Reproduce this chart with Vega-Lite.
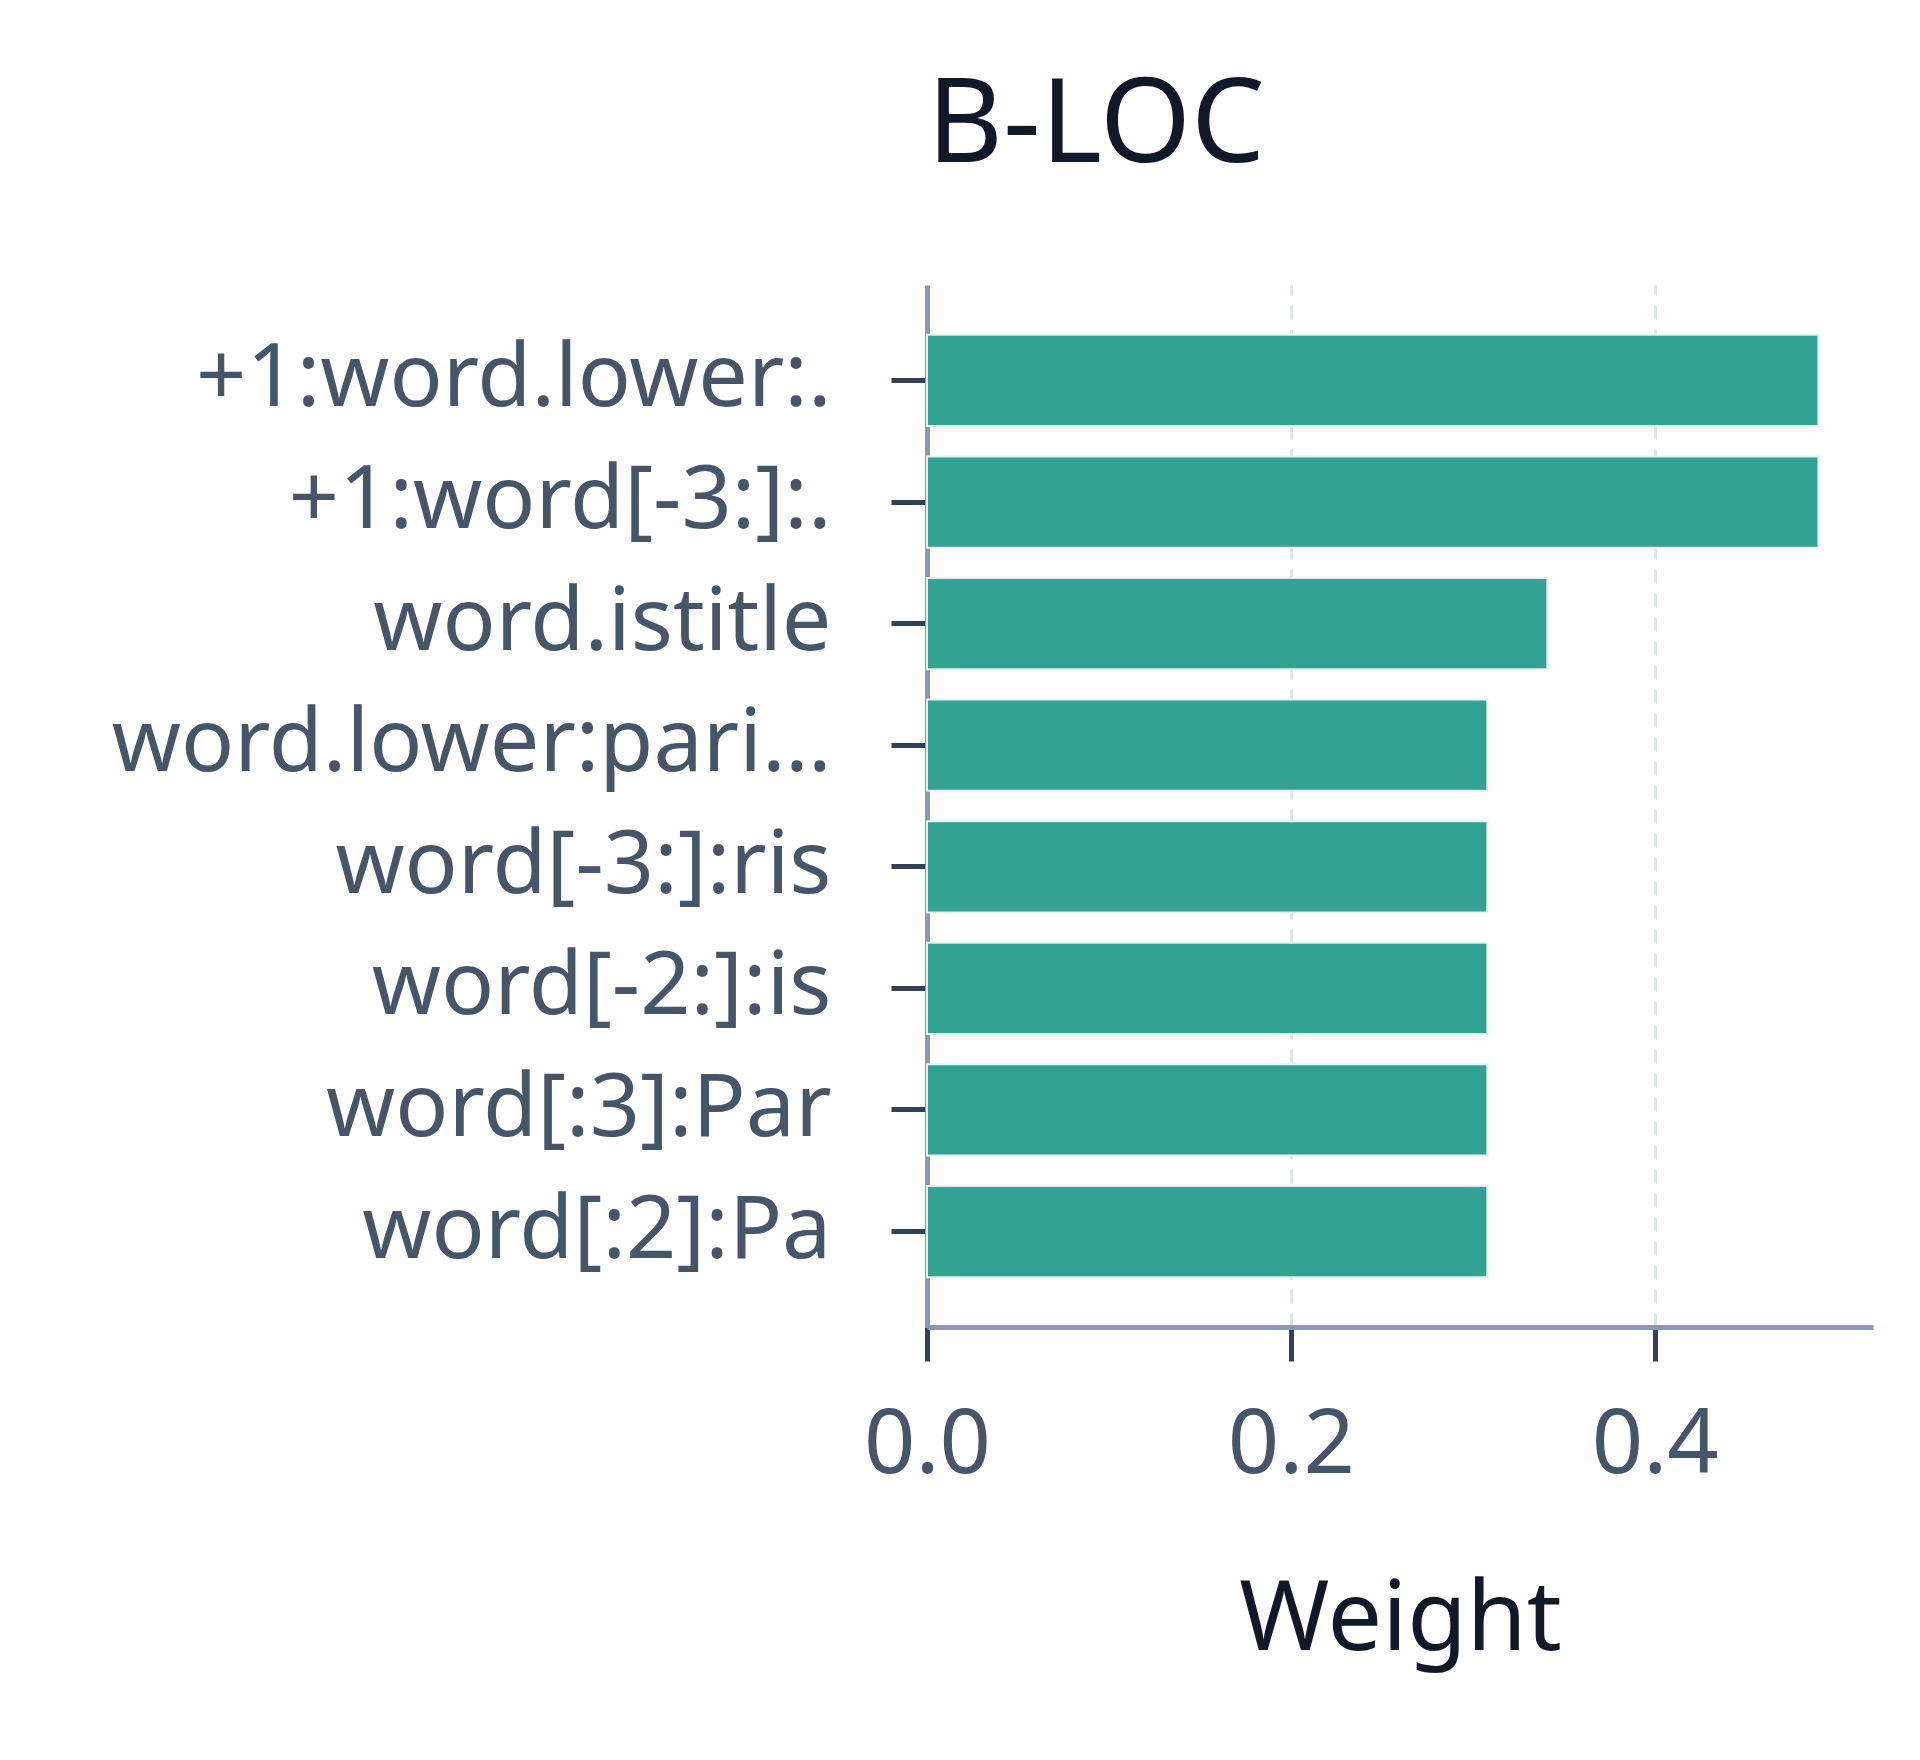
{
  "$schema": "https://vega.github.io/schema/vega-lite/v6.json",
  "width": 946,
  "height": 1042,
  "autosize": {"type": "none"},
  "padding": {"left": 927, "top": 285, "right": 47, "bottom": 433},
  "background": "white",
  "title": {
    "text": "B-LOC",
    "anchor": "start",
    "frame": "group",
    "baseline": "alphabetic",
    "offset": 6,
    "fontSize": 117,
    "font": "Noto Sans",
    "fontWeight": "normal",
    "color": "#111827"
  },
  "data": {
    "values": [
      {"feature": "+1:word.lower:.", "weight": 0.49},
      {"feature": "+1:word[-3:]:.", "weight": 0.49},
      {"feature": "word.istitle", "weight": 0.341},
      {"feature": "word.lower:pari…", "weight": 0.308},
      {"feature": "word[-3:]:ris", "weight": 0.308},
      {"feature": "word[-2:]:is", "weight": 0.308},
      {"feature": "word[:3]:Par", "weight": 0.308},
      {"feature": "word[:2]:Pa", "weight": 0.308}
    ]
  },
  "mark": {
    "type": "bar",
    "color": "#34a293",
    "stroke": "#e3f1ee",
    "strokeWidth": 2
  },
  "encoding": {
    "y": {
      "field": "feature",
      "type": "nominal",
      "sort": null,
      "title": null,
      "scale": {"paddingInner": 0.25, "paddingOuter": 0.41},
      "axis": {
        "labelFontSize": 88,
        "labelFont": "Noto Sans",
        "labelColor": "#475569",
        "labelPadding": 60,
        "labelLimit": 1200,
        "tickSize": 36,
        "tickWidth": 5,
        "tickColor": "#334155",
        "domainColor": "#8d99b2",
        "domainWidth": 5,
        "grid": false
      }
    },
    "x": {
      "field": "weight",
      "type": "quantitative",
      "title": "Weight",
      "scale": {"domain": [0, 0.52], "nice": false},
      "axis": {
        "values": [0, 0.2, 0.4],
        "format": ".1f",
        "labelFlush": false,
        "labelFontSize": 90,
        "labelFont": "Noto Sans",
        "labelColor": "#475569",
        "labelPadding": 40,
        "tickSize": 34,
        "tickWidth": 5,
        "tickColor": "#334155",
        "domainColor": "#8d99b2",
        "domainWidth": 5,
        "grid": true,
        "gridColor": "#dde4ee",
        "gridWidth": 3,
        "gridDash": [14, 10],
        "titleFontSize": 97,
        "titleFont": "Noto Sans",
        "titleFontWeight": "normal",
        "titleColor": "#111827",
        "titlePadding": 82
      }
    }
  },
  "config": {"view": {"stroke": null}}
}
